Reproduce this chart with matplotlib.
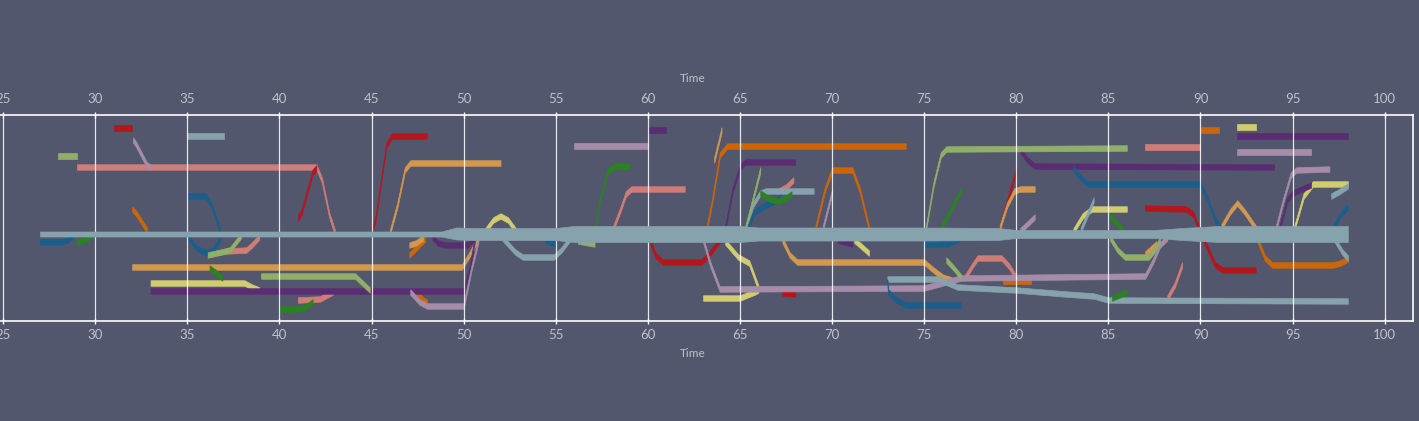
import matplotlib
matplotlib.use("Agg")
import matplotlib.pyplot as plt

# storyline lanes: y values are rows of the frame (top = 115, bottom = 321)
time_ticks = [25, 30, 35, 40, 45, 50, 55, 60, 65, 70, 75, 80, 85, 90, 95, 100]

band_t = [27, 48.8, 49.6, 50.5, 55, 56, 63, 65, 66, 75, 79, 80, 87.5, 89, 91, 98]
band_mid = [234, 234, 233.5, 234, 234, 234, 234, 234, 234, 234, 234, 234, 234, 234, 234, 234]
band_w = [5, 5, 12, 12, 12, 16, 16, 16, 13, 13, 12, 8, 8, 12, 16, 16]

salmon = [
    ([29, 42, 42.3, 42.7, 43], [167, 167, 180, 215, 232]),
    ([37.1, 38.2, 38.5, 38.9], [251, 250, 245, 237]),
    ([41, 42.2, 42.9], [300, 299, 292]),
    ([58.1, 58.5, 58.8, 59.1, 62], [229, 210, 194, 189, 189]),
    ([67.1, 67.5, 67.9], [191, 187, 180]),
    ([77.2, 77.6, 77.9, 79.2, 79.6, 80], [278, 266, 258, 258, 266, 278]),
    ([87, 90], [147, 147]),
    ([88.2, 88.6, 89], [298, 285, 265]),
]
red = [
    ([31, 32], [128, 128]),
    ([41, 41.2, 41.8, 42], [218, 212, 172, 168]),
    ([45, 45.2, 45.8, 46.1, 48], [232, 220, 145, 136, 136]),
    ([60.1, 60.4, 60.8, 62.9, 63.3, 63.9], [240, 255, 262, 262, 255, 240]),
    ([67.3, 68], [293, 294]),
    ([79.1, 80], [228, 170]),
    ([87, 89.2, 89.6, 90.3, 90.8, 91.2, 93], [208, 209, 214, 245, 265, 270, 270]),
]
orange = [
    ([32, 32.2, 32.8], [209, 213, 230]),
    ([47.05, 47.9], [255, 239]),
    ([47.4, 47.8, 48], [292, 300, 302]),
    ([63.2, 63.5, 63.9, 64.3, 74], [228, 200, 155, 146, 146]),
    ([69.1, 69.6, 70, 71.1, 71.5, 72], [228, 190, 170, 170, 190, 228]),
    ([79.3, 80.8], [281, 281]),
    ([90, 91], [130, 130]),
    ([93.1, 93.5, 93.9, 97.2, 97.6, 98], [240, 258, 265, 265, 263, 259]),
]
tan = [
    ([32, 49.9, 50.3, 50.8], [267, 267, 255, 238]),
    ([46, 46.4, 46.8, 47.1, 52], [232, 205, 170, 163, 163]),
    ([47.05, 47.4, 47.8], [245, 243, 238]),
    ([63.6, 64.0], [160, 130]),
    ([67.3, 67.7, 68.1, 75, 75.5, 76, 76.5], [240, 255, 262, 262, 270, 277, 280]),
    ([79.1, 79.5, 79.9, 80.2, 81], [228, 205, 191, 189, 189]),
    ([87.0, 87.6], [254, 244]),
    ([91.1, 91.6, 92, 92.4, 93], [228, 212, 203, 212, 228]),
]
yellow = [
    ([33, 38.1, 38.5, 38.9], [283, 283, 287, 290]),
    ([51.2, 51.6, 52, 52.4, 52.8], [230, 220, 216, 220, 230]),
    ([63, 65, 65.8, 66], [298, 298, 292, 290]),
    ([64.2, 64.9, 65.5, 66], [242, 257, 263, 288]),
    ([71.2, 72], [240, 253]),
    ([83.1, 83.6, 84.1, 86], [231, 216, 209, 209]),
    ([92, 93], [127, 127]),
    ([95.1, 95.6, 96.1, 98], [228, 196, 184, 184]),
]
purple = [
    ([33, 50, 50.3, 50.6], [291, 291, 270, 240]),
    ([48.3, 48.6, 49, 50.2, 50.6], [237, 243, 245, 245, 238]),
    ([60, 61], [130, 130]),
    ([64.2, 64.6, 65, 65.3, 68], [228, 190, 167, 162, 162]),
    ([70.3, 71.1], [240, 244]),
    ([80.2, 80.6, 81, 94], [150, 160, 166, 167]),
    ([92, 98], [136, 136]),
    ([94.3, 94.7, 95, 96], [228, 200, 193, 185]),
]
mauve = [
    ([32.05, 32.2, 32.8, 33], [140, 144, 165, 167]),
    ([47.1, 47.6, 48, 50, 50.4, 50.8], [292, 302, 306, 306, 270, 240]),
    ([56, 60], [146, 146]),
    ([63, 63.4, 63.9, 75, 76.2, 77, 87, 87.4, 87.8, 88.2],
     [240, 265, 289, 288, 282, 278, 276, 262, 245, 238]),
    ([69.5, 70], [228, 192]),
    ([80.2, 81], [231, 217]),
    ([92, 96], [152, 152]),
    ([94.1, 94.5, 94.9, 95.2, 97], [228, 200, 175, 170, 169]),
]
grayblue = [
    ([35, 37], [136, 136]),
    ([52.1, 52.8, 53.2, 54.9, 55.3, 55.8], [238, 252, 257, 257, 250, 238]),
    ([65.3, 65.7, 66.1, 66.4, 69], [228, 205, 193, 191, 191]),
    ([73, 75.8, 76.8, 80, 82.7, 84.2, 85, 98], [279, 279, 287, 290, 294, 296, 300, 301]),
    ([83.5, 84.2], [230, 200]),
    ([97.1, 97.5, 98], [196, 192, 186]),
    ([97.3, 97.7, 98], [240, 252, 258]),
]
blue = [
    ([27, 28.2, 28.5, 28.8], [242, 242, 240, 236]),
    ([35, 36, 36.3, 36.8], [196, 196, 205, 232]),
    ([35, 35.5, 36, 36.4, 36.8], [236, 248, 253, 250, 238]),
    ([54.4, 55], [240, 244]),
    ([65.4, 65.8, 66.3, 66.9, 67.2], [228, 212, 206, 201, 197]),
    ([73, 73.05, 73.5, 74, 77], [282, 292, 300, 305, 305]),
    ([75, 76.3, 77], [244, 244, 238]),
    ([83.1, 83.5, 83.9, 90, 90.4, 90.8, 91.1], [169, 178, 184, 184, 200, 220, 228]),
    ([97.2, 97.6, 98], [228, 215, 207]),
]
green = [
    ([29, 29.4, 29.8], [242, 240, 236]),
    ([36.2, 36.5, 36.9], [268, 272, 278]),
    ([40, 41.1, 41.5, 41.8], [309, 309, 306, 302]),
    ([57.1, 57.4, 57.8, 58.2, 59], [230, 200, 172, 166, 166]),
    ([66.1, 66.6, 67.1, 67.5, 67.8], [193, 199, 201, 198, 194]),
    ([75.9, 76.3, 77], [228, 215, 190]),
    ([85, 85.4, 85.8], [215, 222, 230]),
    ([85.2, 85.6, 86], [298, 295, 292]),
]
lgreen = [
    ([28, 29], [156, 156]),
    ([36.1, 36.6, 37.3, 37.6, 37.9], [255, 253, 250, 243, 236]),
    ([39, 44.1, 44.5, 44.9], [276, 276, 283, 290]),
    ([56.2, 57.1], [241, 244]),
    ([65.3, 66.1], [228, 170]),
    ([75.1, 75.5, 75.9, 76.2, 86], [228, 185, 155, 149, 148]),
    ([76.2, 76.6, 77], [260, 268, 277]),
    ([85.1, 85.5, 85.9, 87.2, 87.5, 87.8], [238, 250, 257, 257, 250, 240]),
]

BG = "#52576e"
TXT = "#bfc1cb"
series = [
    ("#d07c78", salmon), ("#b5161c", red), ("#cc6608", orange), ("#d2984f", tan),
    ("#d2cc70", yellow), ("#5a2d73", purple), ("#a68ca8", mauve), ("#86a2ac", grayblue),
    ("#1b5e8a", blue), ("#2a8220", green), ("#90b068", lgreen),
]
LANE = 5.5

fig = plt.figure(figsize=(14.19, 4.21), dpi=100)
fig.patch.set_facecolor(BG)
ax = fig.add_axes([-27 / 1419, 100 / 421, 1440 / 1419, 206 / 421])
ax.set_facecolor(BG)

for color, segs in series:
    for t, y in segs:
        lo = [v - LANE / 2 for v in y]
        hi = [v + LANE / 2 for v in y]
        ax.fill_between(t, lo, hi, color=color, ec=color, lw=0.5, zorder=2)

lo = [m - w / 2 for m, w in zip(band_mid, band_w)]
hi = [m + w / 2 for m, w in zip(band_mid, band_w)]
ax.fill_between(band_t, lo, hi, color="#86a2ac", ec="#86a2ac", lw=0.5, zorder=3)

ax.set_xlim(23.36, 101.54)
ax.set_ylim(321, 115)
ax.set_xticks(time_ticks)
ax.set_yticks([])
ax.grid(axis="x", color="white", lw=0.9, alpha=0.85, zorder=5)
ax.set_axisbelow(False)
for side in ["top", "bottom", "right"]:
    ax.spines[side].set_color("white")
    ax.spines[side].set_linewidth(1.2)
ax.spines["left"].set_visible(False)

ax.tick_params(axis="x", which="both", direction="inout", length=5, width=1,
               color="white", labelcolor=TXT, labelsize=9.5, pad=3,
               top=True, labeltop=False)
for lab in ax.get_xticklabels():
    lab.set_family("Lato")
ax.set_xlabel("Time", color=TXT, fontsize=8.5, family="Lato", labelpad=5)

top = ax.secondary_xaxis("top")
top.set_xticks(time_ticks)
top.tick_params(length=0, labelcolor=TXT, labelsize=9.5, pad=7)
for lab in top.get_xticklabels():
    lab.set_family("Lato")
top.set_xlabel("Time", color=TXT, fontsize=8.5, family="Lato", labelpad=8)
top.spines["top"].set_visible(False)

fig.savefig("out.png", dpi=100, facecolor=BG)
